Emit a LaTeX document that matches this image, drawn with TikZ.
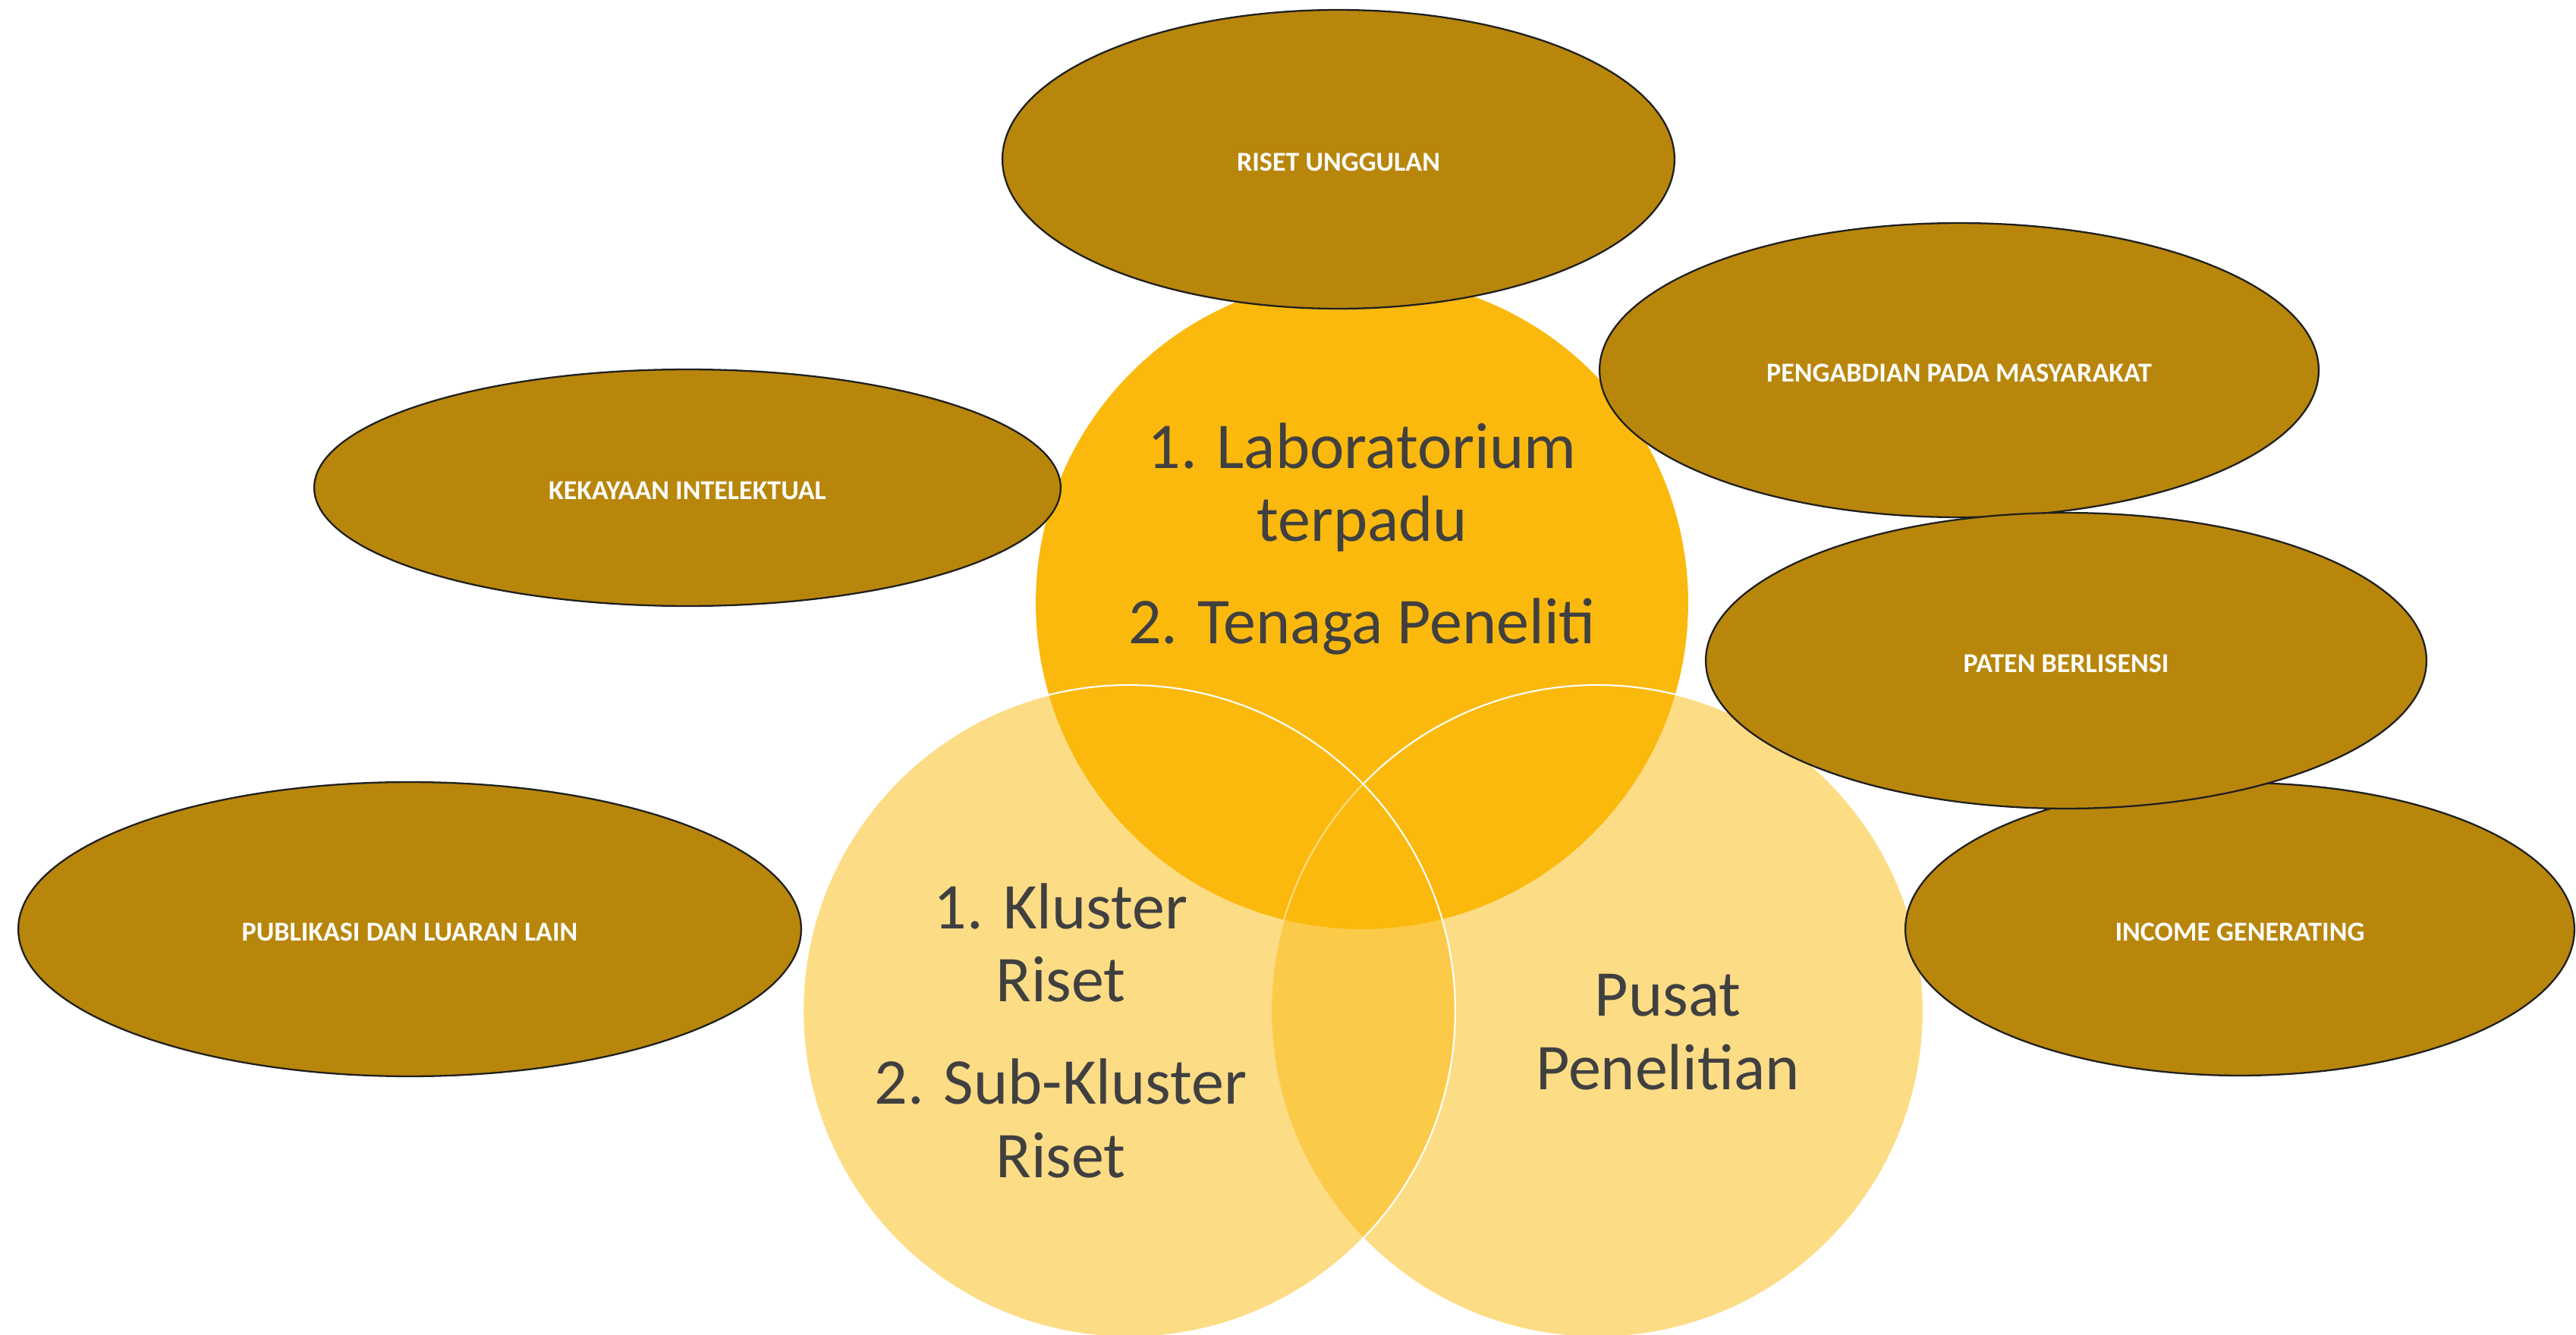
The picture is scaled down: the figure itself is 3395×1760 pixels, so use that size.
\documentclass[tikz,border=0pt]{standalone}
\usepackage{fontspec}
\setmainfont{Carlito}
\usetikzlibrary{shapes.geometric}
\definecolor{gold}{RGB}{251,185,13}
\definecolor{ovalfill}{RGB}{184,134,11}
\definecolor{ovalline}{RGB}{31,31,31}
\definecolor{txtgray}{RGB}{64,64,64}
\tikzset{
  venn/.style={circle, minimum size=17.2cm, inner sep=0pt, fill=gold},
  vennlow/.style={venn, fill opacity=0.5, draw=white, draw opacity=1, line width=1.2pt},
  oval/.style={ellipse, inner sep=0pt, fill=ovalfill, draw=ovalline, line width=1.3pt,
    text=white, text height=17.4pt, text depth=0pt, font=\bfseries\fontsize{20.5}{24}\selectfont},
  vtext/.style={anchor=base, text=txtgray, inner sep=0pt, font=\fontsize{49}{55}\selectfont}
}
\begin{document}
\begin{tikzpicture}[x=0.02cm, y=-0.02cm]
\useasboundingbox (0,0) rectangle (3395,1760);
% Venn circles
\node[venn] (cT) at (1795,795) {};
\node[vennlow] (cR) at (2105,1333) {};
\node[vennlow] (cL) at (1488,1333) {};
% circle texts
\node[vtext] (tA) at (1795,617) {1. Laboratorium};
\node[vtext] (tB) at (1795,713) {terpadu};
\node[vtext] (tC) at (1795,848) {2. Tenaga Peneliti};
\node[vtext] (lA) at (1398,1224) {1. Kluster};
\node[vtext] (lB) at (1398,1320) {Riset};
\node[vtext] (lC) at (1398,1455) {2. Sub-Kluster};
\node[vtext] (lD) at (1398,1552) {Riset};
\node[vtext] (rA) at (2198,1339) {Pusat};
\node[vtext] (rB) at (2198,1436) {Penelitian};
% ovals
\node[oval, minimum width=17.72cm, minimum height=7.88cm] (o1) at (1764,210) {RISET UNGGULAN};
\node[oval, minimum width=19.68cm, minimum height=6.24cm] (o2) at (906,643) {KEKAYAAN INTELEKTUAL};
\node[oval, minimum width=20.64cm, minimum height=7.76cm] (o3) at (540,1225) {PUBLIKASI DAN LUARAN LAIN};
\node[oval, minimum width=18.96cm, minimum height=7.76cm] (o4) at (2582,488) {PENGABDIAN PADA MASYARAKAT};
\node[oval, minimum width=17.64cm, minimum height=7.72cm] (o6) at (2952,1225) {INCOME GENERATING};
\node[oval, minimum width=19.0cm, minimum height=7.8cm] (o5) at (2723,871) {PATEN BERLISENSI};
\end{tikzpicture}
\end{document}
